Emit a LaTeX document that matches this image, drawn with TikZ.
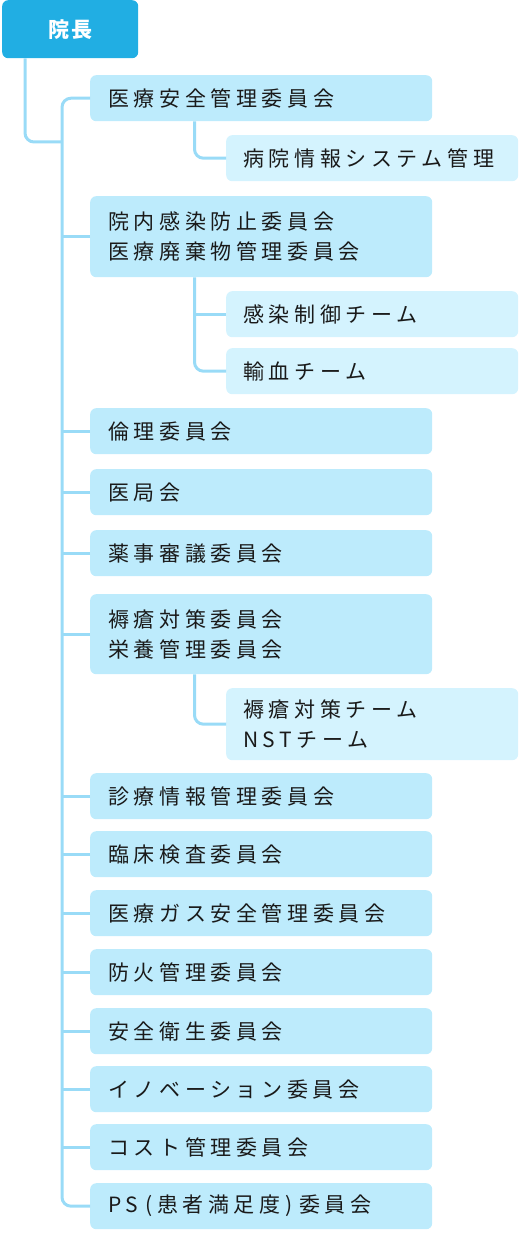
\documentclass[tikz,border=0pt]{standalone}
\usepackage{fontspec}
\newfontfamily\jp[LetterSpace=22]{Noto Sans CJK JP}
\newfontfamily\jpt[LetterSpace=8]{Noto Sans CJK JP}
\definecolor{topblue}{HTML}{21AEE3}
\definecolor{lonec}{HTML}{BDEBFC}
\definecolor{ltwoc}{HTML}{D4F3FE}
\definecolor{connc}{HTML}{99DBF7}
\definecolor{txtc}{HTML}{1A1A1A}
\tikzset{
  topbox/.style={fill=topblue, rounded corners=6pt, text=white, inner sep=0pt,
    minimum width=136pt, minimum height=58pt, anchor=north west,
    font=\jpt\bfseries\fontsize{21}{25}\selectfont},
  lonebox/.style={fill=lonec, rounded corners=6pt, text=txtc, inner xsep=18pt, inner ysep=0pt,
    text width=306pt, align=left, anchor=north west, minimum height=46pt,
    font=\jp\fontsize{21}{30}\selectfont},
  ltwobox/.style={fill=ltwoc, rounded corners=6pt, text=txtc, inner xsep=17pt, inner ysep=0pt,
    text width=258pt, align=left, anchor=north west, minimum height=46pt,
    font=\jp\fontsize{21}{30}\selectfont},
  conn/.style={draw=connc, line width=3pt, rounded corners=9pt},
}
\begin{document}
\begin{tikzpicture}[x=1pt,y=-1pt]
\useasboundingbox (0,0) rectangle (520,1260);
\node[topbox] (top) at (2,0) {院長};
\coordinate (rootx) at (25,0);
\coordinate (trunkx) at (62,600);
\coordinate (join) at (62,142);
\coordinate (subx) at (194.5,0);

\node[lonebox] (n1) at (90,75) {医療安全管理委員会};
\node[ltwobox] (c1) at (226,135) {病院情報システム管理};
\node[lonebox, minimum height=81pt] (n2) at (90,196) {院内感染防止委員会\\医療廃棄物管理委員会};
\node[ltwobox] (c2) at (226,291) {感染制御チーム};
\node[ltwobox] (c3) at (226,348) {輸血チーム};
\node[lonebox] (n3) at (90,408) {倫理委員会};
\node[lonebox] (n4) at (90,469) {医局会};
\node[lonebox] (n5) at (90,530) {薬事審議委員会};
\node[lonebox, minimum height=80pt] (n6) at (90,594) {褥瘡対策委員会\\栄養管理委員会};
\node[ltwobox, minimum height=72pt] (c4) at (226,688) {褥瘡対策チーム\\NSTチーム};
\node[lonebox] (n7) at (90,773) {診療情報管理委員会};
\node[lonebox] (n8) at (90,831) {臨床検査委員会};
\node[lonebox] (n9) at (90,890) {医療ガス安全管理委員会};
\node[lonebox] (n10) at (90,949) {防火管理委員会};
\node[lonebox] (n11) at (90,1008) {安全衛生委員会};
\node[lonebox] (n12) at (90,1066) {イノベーション委員会};
\node[lonebox] (n13) at (90,1124) {コスト管理委員会};
\node[lonebox] (n14) at (90,1183) {PS\kern7pt(患者満足度)\kern7pt委員会};

% root to trunk
\draw[conn] (top.south -| rootx) |- (join);
% trunk
\draw[conn] (n1.west) -| (trunkx) |- (n14.west);
\foreach \n in {n2,n3,n4,n5,n6,n7,n8,n9,n10,n11,n12,n13}{
  \draw[conn] (\n.west) -- (\n.west -| trunkx);
}
% sub connectors
\draw[conn] (n1.south -| subx) |- (c1.west);
\draw[conn] (n2.south -| subx) |- (c3.west);
\draw[conn] (c2.west) -- (c2.west -| subx);
\draw[conn] (n6.south -| subx) |- (c4.west);
\end{tikzpicture}
\end{document}
